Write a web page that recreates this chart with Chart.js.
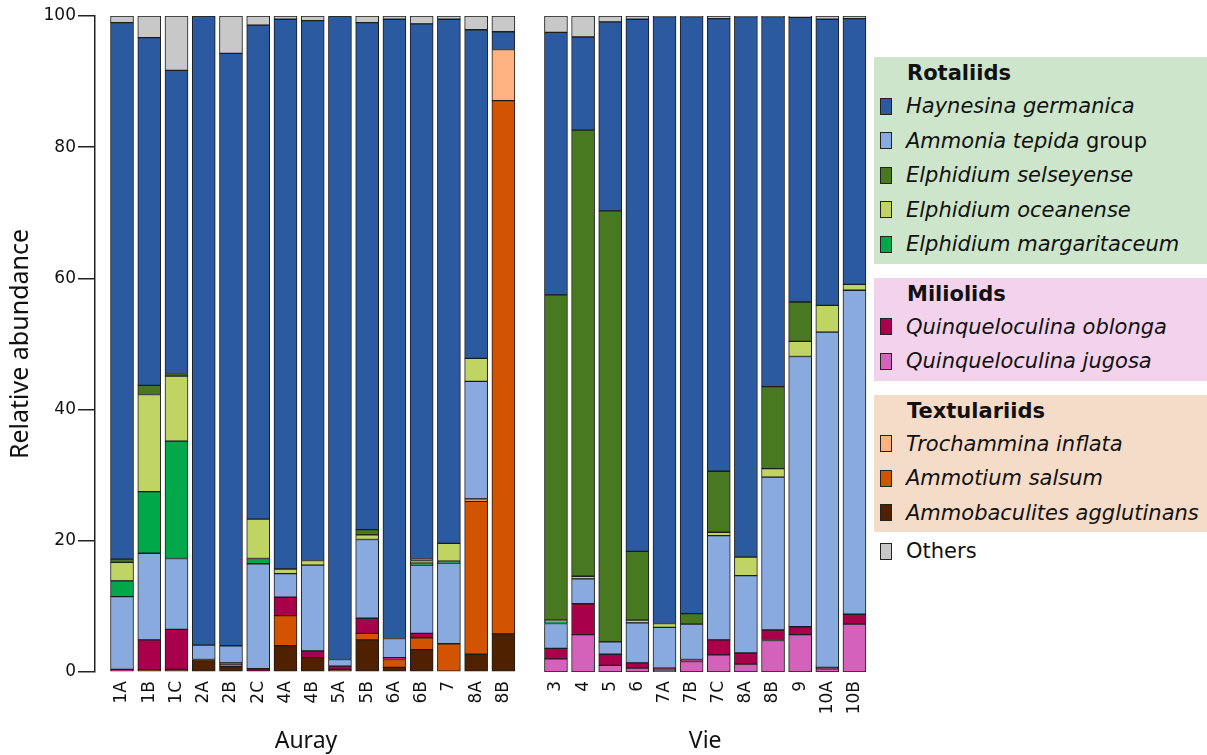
<!DOCTYPE html>
<html>
<head>
<meta charset="utf-8">
<script src="https://cdn.jsdelivr.net/npm/chart.js@4.4.1/dist/chart.umd.min.js"></script>
<style>
  body { margin:0; background:#fff; width:1207px; height:755px; position:relative; overflow:hidden; font-family:"DejaVu Sans", sans-serif; color:#111; }
  #aurayBox { position:absolute; left:0; top:0; width:530px; height:755px; }
  #vieBox { position:absolute; left:530px; top:0; width:340px; height:755px; }
  #legend { position:absolute; left:874px; top:57px; width:333px; display:flex; flex-direction:column; gap:14px; }
  .grp { padding-bottom:2px; }
  .head { height:32px; line-height:32px; padding-left:33px; font-weight:bold; font-size:21px; }
  .row { height:34.5px; display:flex; align-items:center; font-size:21px; font-style:italic; white-space:nowrap; }
  .row .sw { width:10px; height:15px; border:1.5px solid #222; margin-left:6px; margin-right:14px; flex:none; }
  .row .plain { font-style:normal; }
  .others { margin-top:-12px; }
</style>
</head>
<body>
<div id="aurayBox"><canvas id="auray"></canvas></div>
<div id="vieBox"><canvas id="vie"></canvas></div>
<div id="legend"></div>
<script>
const aurayLabels = ["1A","1B","1C","2A","2B","2C","4A","4B","5A","5B","6A","6B","7","8A","8B"];
const vieLabels = ["3","4","5","6","7A","7B","7C","8A","8B","9","10A","10B"];
const yTicks = [0, 20, 40, 60, 80, 100];

// 15 Auray samples, then 12 Vie samples
const haynesina     = [81.8,53.0,46.2,95.9,90.3,75.3,83.8,82.3,98.1,77.3,94.4,81.5,79.9,50.1,2.7,   40.0,14.2,28.8,81.1,92.5,91.0,69.0,82.4,56.4,43.4,43.6,40.5];
const ammonia       = [11.1,13.2,10.8,2.2,2.6,16.0,3.6,13.1,1.0,12.0,2.9,10.4,12.3,17.9,0,          3.8,3.8,1.9,6.1,6.2,5.4,15.9,11.8,23.3,41.2,51.1,49.4];
const selseyense    = [0.5,1.4,0.4,0,0,0,0,0,0,0.8,0,0.3,0,0,0,                                   49.6,68.0,65.7,10.5,0,1.6,9.3,0,12.5,6.0,0,0];
const oceanense     = [2.8,14.8,9.9,0,0,6.0,0.7,0.7,0,0.7,0,0.4,2.7,3.5,0,                         0.3,0.4,0,0.4,0.6,0,0.5,2.8,1.3,2.3,4.1,0.9];
const margaritaceum = [2.4,9.4,17.9,0,0,0.8,0,0,0,0,0,0.3,0.3,0,0,                                 0.2,0,0,0,0,0,0,0,0,0,0,0];
const oblonga       = [0.4,4.6,6.1,0,0.3,0.5,2.8,1.0,0.5,2.3,0.3,0.7,0,0,0,                        1.6,4.7,1.7,0.8,0.3,0.3,2.3,1.7,1.6,1.2,0.2,1.5];
const jugosa        = [0,0,0,0,0,0,0,0,0,0,0,0,0,0,0,                                              2.0,5.7,1.0,0.6,0.3,1.6,2.6,1.2,4.8,5.7,0.5,7.3];
const trochammina   = [0,0,0,0,0,0,0,0,0,0,0,0,0,0.4,7.8,                                          0,0,0,0,0,0,0,0,0,0,0,0];
const ammotium      = [0,0,0,0,0.3,0,4.6,0,0,1.0,1.2,1.8,4.3,23.3,81.3,                            0,0,0,0,0,0,0,0,0,0,0,0];
const ammobaculites = [0,0.3,0.4,1.9,0.8,0,4.0,2.2,0.4,4.9,0.7,3.4,0,2.7,5.8,                      0,0,0,0,0,0,0,0,0,0,0,0];
const others        = [1.0,3.3,8.3,0,5.7,1.4,0.5,0.7,0,1.0,0.5,1.2,0.5,2.1,2.4,                    2.5,3.2,0.9,0.5,0.1,0.1,0.4,0.1,0.1,0.2,0.5,0.4];

const speciesNames = ["Haynesina germanica","Ammonia tepida group","Elphidium selseyense","Elphidium oceanense",
  "Elphidium margaritaceum","Quinqueloculina oblonga","Quinqueloculina jugosa","Trochammina inflata",
  "Ammotium salsum","Ammobaculites agglutinans","Others"];
const speciesValues = [haynesina, ammonia, selseyense, oceanense, margaritaceum, oblonga, jugosa,
  trochammina, ammotium, ammobaculites, others];
const speciesColors = ["#2b5aa0","#88aadf","#487820","#bfd463","#00a84a","#a8004a","#d462bb",
  "#ffb180","#d35400","#4f2100","#c8c8c8"];
const speciesGroup = [0,0,0,0,0,1,1,2,2,2,3];
const groupNames = ["Rotaliids","Miliolids","Textulariids",""];
const groupColors = ["#cde5cb","#f3d3ec","#f5dcc9","transparent"];
// bottom of the stack first
const stackOrder = [9,8,7,6,5,1,4,3,2,0,10];

const FONT = "'DejaVu Sans', sans-serif";
const TITLE_FONT = "'Noto Sans', sans-serif";

// room between the y axis line and the first bar slot
const shiftX = {
  id: "shiftX",
  afterLayout(chart, args, opts) {
    const s = chart.scales.x;
    const n = s.getLabels().length;
    const cw = (s.width - opts.gap) / n;
    const e = opts.gap / cw;
    s._startValue = -0.5 - e;
    s._valueRange = n + e;
  }
};

function makeDatasets(from, to) {
  return stackOrder.map(i => ({
    label: speciesNames[i],
    data: speciesValues[i].slice(from, to).map(v => v === 0 ? null : v),
    backgroundColor: speciesColors[i],
    borderColor: "#1c1c1c",
    borderWidth: 1,
    borderSkipped: false,
    barThickness: 23
  }));
}

function makeChart(id, labels, from, title, showY, pad, gap) {
  return new Chart(document.getElementById(id), {
    type: "bar",
    data: { labels: labels, datasets: makeDatasets(from, from + labels.length) },
    options: {
      responsive: true,
      maintainAspectRatio: false,
      animation: false,
      layout: { padding: pad },
      plugins: { legend: { display: false }, tooltip: { enabled: false }, shiftX: { gap: gap } },
      scales: {
        x: {
          stacked: true,
          grid: { display: false, drawTicks: false },
          border: { display: false },
          ticks: { color: "#111", font: { family: FONT, size: 17 }, padding: 9,
                   minRotation: 90, maxRotation: 90, autoSkip: false },
          title: { display: true, text: title, color: "#111",
                   font: { family: TITLE_FONT, size: 23 }, padding: { top: 0, bottom: 0 } },
          afterFit: s => { s.height = 83; s.paddingLeft = 0; s.paddingRight = 0; }
        },
        y: {
          display: showY,
          stacked: true,
          min: 0,
          max: 100,
          afterBuildTicks: s => { s.ticks = yTicks.map(v => ({ value: v })); },
          grid: { drawOnChartArea: false, drawTicks: true, tickLength: 17, color: "#222", lineWidth: 1.5 },
          border: { display: true, color: "#222", width: 1.5 },
          ticks: { color: "#111", font: { family: FONT, size: 17 }, padding: 2 },
          title: { display: true, text: "Relative abundance", color: "#111",
                   font: { family: TITLE_FONT, size: 25 }, padding: { top: 6, bottom: 0 } },
          afterFit: s => { s.width = showY ? 95 : 0; }
        }
      }
    },
    plugins: [shiftX]
  });
}

function buildLegend() {
  const box = document.getElementById("legend");
  groupNames.forEach((g, gi) => {
    const div = document.createElement("div");
    div.className = "grp" + (g ? "" : " others");
    div.style.background = groupColors[gi];
    if (g) div.innerHTML = '<div class="head">' + g + '</div>';
    speciesNames.forEach((name, i) => {
      if (speciesGroup[i] !== gi) return;
      let txt = name;
      if (!g) txt = '<span class="plain">' + name + '</span>';
      else if (name.endsWith(" group")) txt = name.replace(/ group$/, '') + '<span class="plain">&nbsp;group</span>';
      div.innerHTML += '<div class="row"><span class="sw" style="background:' + speciesColors[i] + '"></span>' + txt + '</div>';
    });
    box.appendChild(div);
  });
}

makeChart("auray", aurayLabels, 0, "Auray", true, { top: 16, right: 13, left: 0, bottom: 0 }, 13.4);
makeChart("vie", vieLabels, aurayLabels.length, "Vie", false, { top: 16, right: 2, left: 12.4, bottom: 0 }, 0);
buildLegend();
</script>
</body>
</html>
